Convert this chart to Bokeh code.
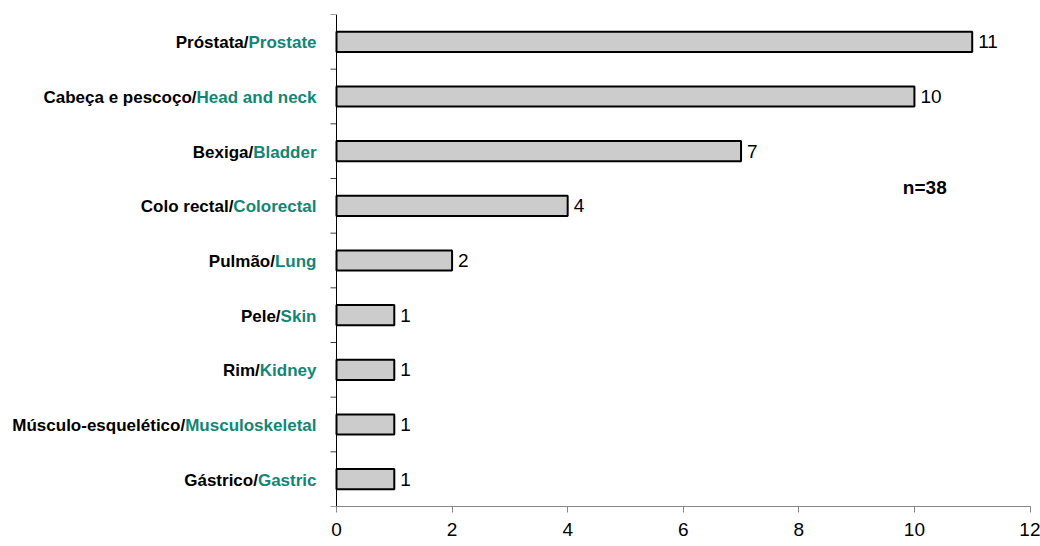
from bokeh.plotting import figure
from bokeh.models import ColumnDataSource, Range1d, FactorRange, Span, FixedTicker, Label
from bokeh.core.properties import value
from bokeh.embed import file_html
from bokeh.resources import INLINE

# Tumour sites (Portuguese / English) and number of patients
sites_pt = ["Próstata/", "Cabeça e pescoço/", "Bexiga/", "Colo rectal/", "Pulmão/",
            "Pele/", "Rim/", "Músculo-esquelético/", "Gástrico/"]
sites_en = ["Prostate", "Head and neck", "Bladder", "Colorectal", "Lung",
            "Skin", "Kidney", "Musculoskeletal", "Gastric"]
counts = [11, 10, 7, 4, 2, 1, 1, 1, 1]
total_label = "n=38"
x_ticks = [0, 2, 4, 6, 8, 10, 12]

FONT = "Liberation Sans"
LABEL_SIZE = 17.0          # px, bold category labels
TEAL = "#128676"

# Advance widths of Liberation Sans Bold (per 1000 em) used to place the
# two-coloured category labels side by side.
BOLD_W = {
    " ": 278, "-": 333, "/": 278,
    "A": 722, "B": 722, "C": 722, "D": 722, "E": 667, "F": 611, "G": 778, "H": 722,
    "I": 278, "J": 556, "K": 722, "L": 611, "M": 833, "N": 722, "O": 778, "P": 667,
    "Q": 778, "R": 722, "S": 667, "T": 611, "U": 722, "V": 667, "W": 944, "X": 667,
    "Y": 667, "Z": 611,
    "a": 556, "b": 611, "c": 556, "d": 611, "e": 556, "f": 333, "g": 611, "h": 611,
    "i": 278, "j": 278, "k": 556, "l": 278, "m": 889, "n": 611, "o": 611, "p": 611,
    "q": 611, "r": 389, "s": 556, "t": 333, "u": 611, "v": 556, "w": 778, "x": 556,
    "y": 556, "z": 500,
}


def text_width(s, size):
    return sum(BOLD_W.get(ch, 556) for ch in s) * size / 1000.0


# Pixel geometry of the frame
W, H = 1040, 546
LEFT_PX = 336          # where x = 0 sits
RIGHT_PX = 1029.5      # where x = 12 sits
px_per_unit = (RIGHT_PX - LEFT_PX) / (x_ticks[-1] - x_ticks[0])
x_start = -LEFT_PX / px_per_unit
x_end = x_ticks[-1] + (W - RIGHT_PX) / px_per_unit

LABEL_GAP = 20  # px between label end and the vertical axis

src = ColumnDataSource(dict(
    en=sites_en,
    pt=sites_pt,
    count=counts,
    count_txt=[str(c) for c in counts],
    pt_off=[-LABEL_GAP - text_width(e, LABEL_SIZE) for e in sites_en],
))

p = figure(width=W, height=H,
           x_range=Range1d(x_start, x_end),
           y_range=FactorRange(factors=list(reversed(sites_en))),
           y_axis_location=None,
           min_border_left=0, min_border_right=0,
           min_border_top=14, min_border_bottom=40,
           output_backend="svg", toolbar_location=None)
p.outline_line_color = None
p.grid.visible = False
p.background_fill_color = "white"
p.border_fill_color = "white"

# Horizontal bars
p.hbar(y="en", left=0, right="count", height=0.37, source=src,
       fill_color="#cccccc", line_color="black", line_width=2)

# Value labels at the bar ends
p.text(x="count", y="en", text="count_txt", source=src,
       x_offset=6, y_offset=0, text_align="left", text_baseline="middle",
       text_font=value(FONT), text_font_size="19px", text_color="black")

# Category labels: Portuguese part in black, English part in teal
p.text(x=0, y="en", text="en", source=src,
       x_offset=-LABEL_GAP, y_offset=1, text_align="right", text_baseline="middle",
       text_font=value(FONT), text_font_style="bold",
       text_font_size=f"{LABEL_SIZE}px", text_color=TEAL)
p.text(x=0, y="en", text="pt", source=src,
       x_offset="pt_off", y_offset=1, text_align="right", text_baseline="middle",
       text_font=value(FONT), text_font_style="bold",
       text_font_size=f"{LABEL_SIZE}px", text_color="black")

# Vertical category axis line with outward ticks at category boundaries
p.add_layout(Span(location=0, dimension="height", line_color="black", line_width=1))
boundaries = list(range(len(sites_en) + 1))
tick_len = 6 / px_per_unit
p.segment(x0=[-tick_len] * len(boundaries), x1=[0] * len(boundaries),
          y0=boundaries, y1=boundaries, line_color="#404040", line_width=1)

# Value axis
xa = p.xaxis[0]
xa.bounds = (x_ticks[0], x_ticks[-1])
xa.ticker = FixedTicker(ticks=x_ticks)
xa.axis_line_color = "#868686"
xa.major_tick_line_color = "#868686"
xa.major_tick_out = 6
xa.major_tick_in = 0
xa.minor_tick_out = 0
xa.minor_tick_in = 0
xa.major_label_standoff = 10
xa.major_label_text_font = FONT
xa.major_label_text_font_size = "19px"
xa.major_label_text_color = "black"

# Total count annotation
n_x = 9.8
n_y = len(sites_en) - (187 - 14) / ((506 - 14) / len(sites_en))
p.add_layout(Label(x=n_x, y=n_y, text=total_label, text_font=FONT,
                   text_font_style="bold", text_font_size="19px",
                   text_baseline="middle", text_align="left", text_color="black"))

open("out.html", "w").write(file_html(p, INLINE))
